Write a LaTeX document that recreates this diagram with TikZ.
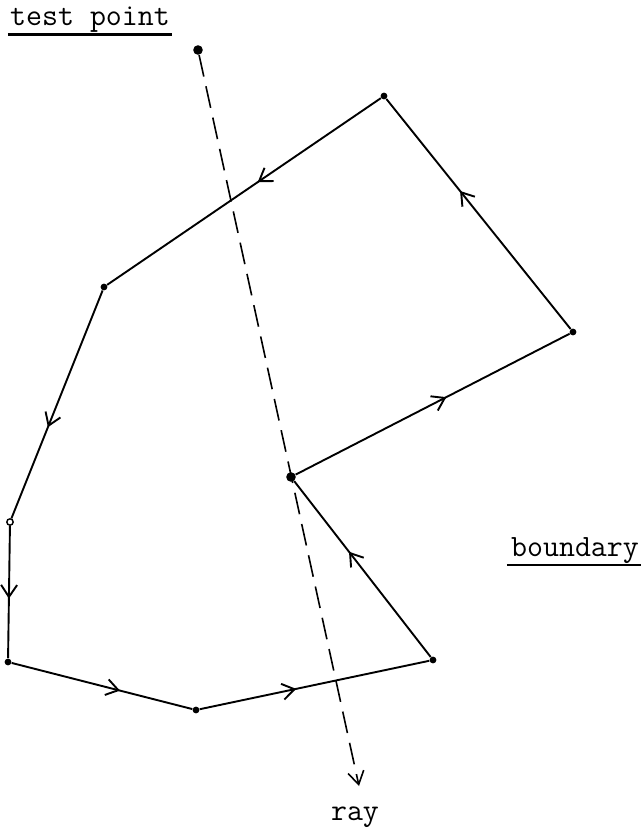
\documentclass[tikz,border=0pt]{standalone}
\usepackage{tikz}
\usetikzlibrary{arrows.meta,decorations.markings}

\begin{document}
\begin{tikzpicture}[
        x=0.5pt, y=-0.5pt,
        vertex_dot/.style={circle, fill=black, inner sep=0pt, minimum size=3.4pt},
        open_dot/.style={circle, draw=black, fill=white, inner sep=0pt, minimum size=3.2pt, line width=0.7pt},
        point_dot/.style={circle, fill=black, inner sep=0pt, minimum size=4.8pt},
        bline/.style={line width=0.95pt, postaction={decorate}, decoration={markings, mark=at position #1 with {\arrow{Straight Barb[length=6pt,width=8pt,line width=0.95pt]}}}},
        bline/.default=0.55,
        ray_line/.style={dash pattern=on 11pt off 5pt, line width=0.8pt, arrows={-Straight Barb[length=6.5pt,width=8pt,line width=0.8pt]}},
        label_text/.style={font=\fontsize{15.5}{18}\selectfont\ttfamily, inner sep=0pt, anchor=base},
        under_line/.style={line width=1.1pt}
    ]
        \useasboundingbox (0,0) rectangle (643,833);

        % boundary vertices
        \node (va) at (384, 96) [vertex_dot] {};
        \node (vb) at (104, 287) [vertex_dot] {};
        \node (vc) at (10, 522) [open_dot] {};
        \node (vd) at (8, 662) [vertex_dot] {};
        \node (ve) at (196, 710) [vertex_dot] {};
        \node (vf) at (433, 660) [vertex_dot] {};
        \node (vg) at (291, 477) [point_dot] {};
        \node (vh) at (573, 332) [vertex_dot] {};

        % test point and ray
        \node (tp) at (198, 50) [point_dot] {};
        \coordinate (ray_end) at (359, 786);

        % labels
        \node (tp_label) at (90, 26) [label_text] {test point};
        \node (bd_label) at (575, 556) [label_text] {boundary};
        \node (ray_label) at (355, 820) [label_text] {ray};

        \draw [under_line] ([xshift=-1pt, yshift=-0.6pt]tp_label.south west) -- ([xshift=1pt, yshift=-0.6pt]tp_label.south east);
        \draw [under_line] ([xshift=-2pt, yshift=-0.6pt]bd_label.south west) -- ([xshift=1pt, yshift=-0.6pt]bd_label.south east);

        % boundary edges
        \draw [bline=0.45] (va) -- (vb);
        \draw [bline=0.6] (vb) -- (vc);
        \draw [bline=0.55] (vc) -- (vd);
        \draw [bline=0.6] (vd) -- (ve);
        \draw [bline=0.42] (ve) -- (vf);
        \draw [bline=0.6] (vf) -- (vg);
        \draw [bline=0.55] (vg) -- (vh);
        \draw [bline=0.6] (vh) -- (va);

        % ray
        \draw [ray_line] (tp) -- (ray_end);

    \end{tikzpicture}
\end{document}
